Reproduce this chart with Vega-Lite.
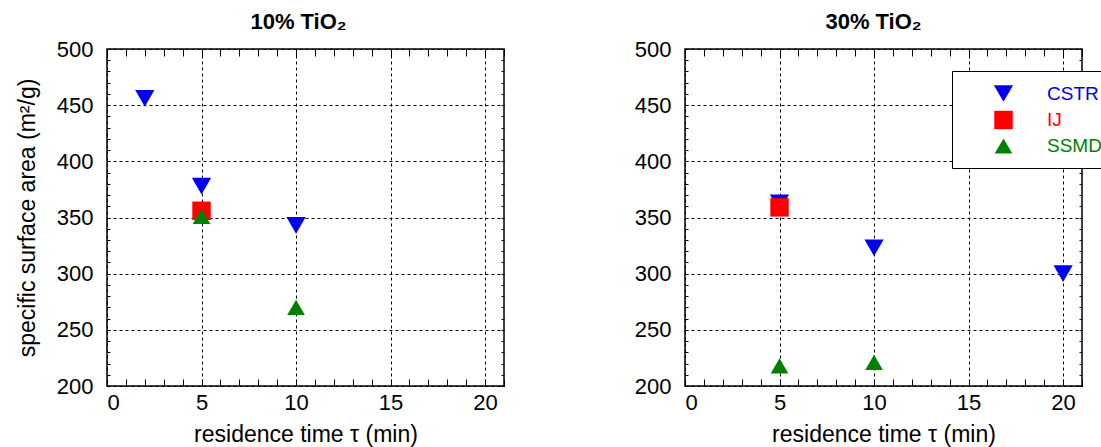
{
  "$schema": "https://vega.github.io/schema/vega-lite/v6.json",
  "padding": {"left": 15, "top": 10, "right": 0, "bottom": 0},
  "config": {
    "font": "Liberation Sans",
    "view": {"stroke": "black", "strokeWidth": 1.5},
    "axis": {
      "labelFontSize": 22, "labelColor": "black", "labelFont": "Liberation Sans",
      "titleFontSize": 23, "titleFontWeight": "normal", "titleColor": "black", "titleFont": "Liberation Sans",
      "gridColor": "black", "gridOpacity": 1, "gridWidth": 1, "gridDash": [3, 3],
      "tickColor": "black", "tickWidth": 1
    },
    "title": {"fontSize": 22, "fontWeight": "bold", "color": "black", "font": "Liberation Sans"}
  },
  "datasets": {
    "p10": [
      {"tau": 2, "area": 456, "series": "CSTR"},
      {"tau": 5, "area": 378, "series": "CSTR"},
      {"tau": 10, "area": 343, "series": "CSTR"},
      {"tau": 5, "area": 356, "series": "IJ"},
      {"tau": 5, "area": 351, "series": "SSMD"},
      {"tau": 10, "area": 270, "series": "SSMD"}
    ],
    "p30": [
      {"tau": 5, "area": 363, "series": "CSTR"},
      {"tau": 10, "area": 323, "series": "CSTR"},
      {"tau": 20, "area": 300, "series": "CSTR"},
      {"tau": 5, "area": 359, "series": "IJ"},
      {"tau": 5, "area": 218, "series": "SSMD"},
      {"tau": 10, "area": 221, "series": "SSMD"}
    ]
  },
  "spacing": 127,
  "resolve": {"legend": {"color": "independent", "shape": "independent", "size": "independent"}},
  "hconcat": [
    {
      "width": 397, "height": 337,
      "data": {"name": "p10"},
      "title": {"text": "10% TiO₂", "offset": 4, "dx": -7},
      "resolve": {"axis": {"x": "independent", "y": "independent"}},
      "layer": [
        {
          "mark": {"type": "point", "filled": true, "opacity": 1, "strokeWidth": 0},
          "encoding": {
            "x": {"field": "tau", "type": "quantitative", "scale": {"domain": [0, 21], "nice": false, "zero": false},
              "axis": {"orient": "bottom", "values": [0, 5, 10, 15, 20], "grid": true, "ticks": false, "domain": false, "labelPadding": 6, "titlePadding": 10, "title": "residence time τ (min)"}},
            "y": {"field": "area", "type": "quantitative", "scale": {"domain": [200, 500], "nice": false, "zero": false},
              "axis": {"orient": "left", "values": [200, 250, 300, 350, 400, 450, 500], "grid": true, "ticks": false, "domain": false, "labelPadding": 14, "titlePadding": 17, "title": "specific surface area (m²/g)"}},
            "color": {"field": "series", "type": "nominal", "scale": {"domain": ["CSTR", "IJ", "SSMD"], "range": ["#0000ee", "#ff0000", "#008000"]}, "legend": null},
            "shape": {"field": "series", "type": "nominal", "scale": {"domain": ["CSTR", "IJ", "SSMD"], "range": ["triangle-down", "square", "triangle-up"]}, "legend": null},
            "size": {"field": "series", "type": "nominal", "scale": {"domain": ["CSTR", "IJ", "SSMD"], "range": [370, 310, 370]}, "legend": null}
          }
        },
        {
          "mark": {"type": "point", "opacity": 0},
          "encoding": {
            "x": {"field": "tau", "type": "quantitative", "scale": {"domain": [0, 21], "nice": false, "zero": false},
              "axis": {"orient": "top", "values": [0,1,2,3,4,5,6,7,8,9,10,11,12,13,14,15,16,17,18,19,20,21], "labels": false, "domain": false, "grid": false, "tickSize": -7, "title": null}},
            "y": {"field": "area", "type": "quantitative", "scale": {"domain": [200, 500], "nice": false, "zero": false},
              "axis": {"orient": "right", "values": [200,210,220,230,240,250,260,270,280,290,300,310,320,330,340,350,360,370,380,390,400,410,420,430,440,450,460,470,480,490,500], "labels": false, "domain": false, "grid": false, "tickSize": -3, "title": null}}
          }
        },
        {
          "mark": {"type": "point", "opacity": 0},
          "encoding": {
            "x": {"field": "tau", "type": "quantitative", "scale": {"domain": [0, 21], "nice": false, "zero": false},
              "axis": {"orient": "bottom", "values": [0,1,2,3,4,5,6,7,8,9,10,11,12,13,14,15,16,17,18,19,20,21], "labels": false, "domain": false, "grid": false, "tickSize": -7, "title": null}},
            "y": {"field": "area", "type": "quantitative", "scale": {"domain": [200, 500], "nice": false, "zero": false},
              "axis": {"orient": "left", "values": [200,210,220,230,240,250,260,270,280,290,300,310,320,330,340,350,360,370,380,390,400,410,420,430,440,450,460,470,480,490,500], "labels": false, "domain": false, "grid": false, "tickSize": -3, "title": null}}
          }
        }
      ]
    },
    {
      "width": 397, "height": 337,
      "data": {"name": "p30"},
      "title": {"text": "30% TiO₂", "offset": 4, "dx": -10},
      "resolve": {"axis": {"x": "independent", "y": "independent"}},
      "layer": [
        {
          "mark": {"type": "point", "filled": true, "opacity": 1, "strokeWidth": 0},
          "encoding": {
            "x": {"field": "tau", "type": "quantitative", "scale": {"domain": [0, 21], "nice": false, "zero": false},
              "axis": {"orient": "bottom", "values": [0, 5, 10, 15, 20], "grid": true, "ticks": false, "domain": false, "labelPadding": 6, "titlePadding": 10, "title": "residence time τ (min)"}},
            "y": {"field": "area", "type": "quantitative", "scale": {"domain": [200, 500], "nice": false, "zero": false},
              "axis": {"orient": "left", "values": [200, 250, 300, 350, 400, 450, 500], "grid": true, "ticks": false, "domain": false, "labelPadding": 14, "title": null}},
            "color": {"field": "series", "type": "nominal", "scale": {"domain": ["CSTR", "IJ", "SSMD"], "range": ["#0000ee", "#ff0000", "#008000"]},
              "legend": {"orient": "none", "legendX": 267, "legendY": 22, "title": null, "strokeColor": "black", "fillColor": "white", "padding": 12, "symbolOffset": 29, "labelOffset": 33, "rowPadding": 6, "labelFontSize": 19, "labelFont": "Liberation Sans",
                "labelColor": {"expr": "datum.value === 'CSTR' ? '#0000ee' : datum.value === 'IJ' ? '#ff0000' : '#008000'"},
                "encode": {"legend": {"update": {"strokeWidth": {"value": 2}}}}}},
            "shape": {"field": "series", "type": "nominal", "scale": {"domain": ["CSTR", "IJ", "SSMD"], "range": ["triangle-down", "square", "triangle-up"]}},
            "size": {"field": "series", "type": "nominal", "scale": {"domain": ["CSTR", "IJ", "SSMD"], "range": [370, 310, 370]}}
          }
        },
        {
          "mark": {"type": "point", "opacity": 0},
          "encoding": {
            "x": {"field": "tau", "type": "quantitative", "scale": {"domain": [0, 21], "nice": false, "zero": false},
              "axis": {"orient": "top", "values": [0,1,2,3,4,5,6,7,8,9,10,11,12,13,14,15,16,17,18,19,20,21], "labels": false, "domain": false, "grid": false, "tickSize": -7, "title": null}},
            "y": {"field": "area", "type": "quantitative", "scale": {"domain": [200, 500], "nice": false, "zero": false},
              "axis": {"orient": "right", "values": [200,210,220,230,240,250,260,270,280,290,300,310,320,330,340,350,360,370,380,390,400,410,420,430,440,450,460,470,480,490,500], "labels": false, "domain": false, "grid": false, "tickSize": -3, "title": null}}
          }
        },
        {
          "mark": {"type": "point", "opacity": 0},
          "encoding": {
            "x": {"field": "tau", "type": "quantitative", "scale": {"domain": [0, 21], "nice": false, "zero": false},
              "axis": {"orient": "bottom", "values": [0,1,2,3,4,5,6,7,8,9,10,11,12,13,14,15,16,17,18,19,20,21], "labels": false, "domain": false, "grid": false, "tickSize": -7, "title": null}},
            "y": {"field": "area", "type": "quantitative", "scale": {"domain": [200, 500], "nice": false, "zero": false},
              "axis": {"orient": "left", "values": [200,210,220,230,240,250,260,270,280,290,300,310,320,330,340,350,360,370,380,390,400,410,420,430,440,450,460,470,480,490,500], "labels": false, "domain": false, "grid": false, "tickSize": -3, "title": null}}
          }
        }
      ]
    }
  ]
}
